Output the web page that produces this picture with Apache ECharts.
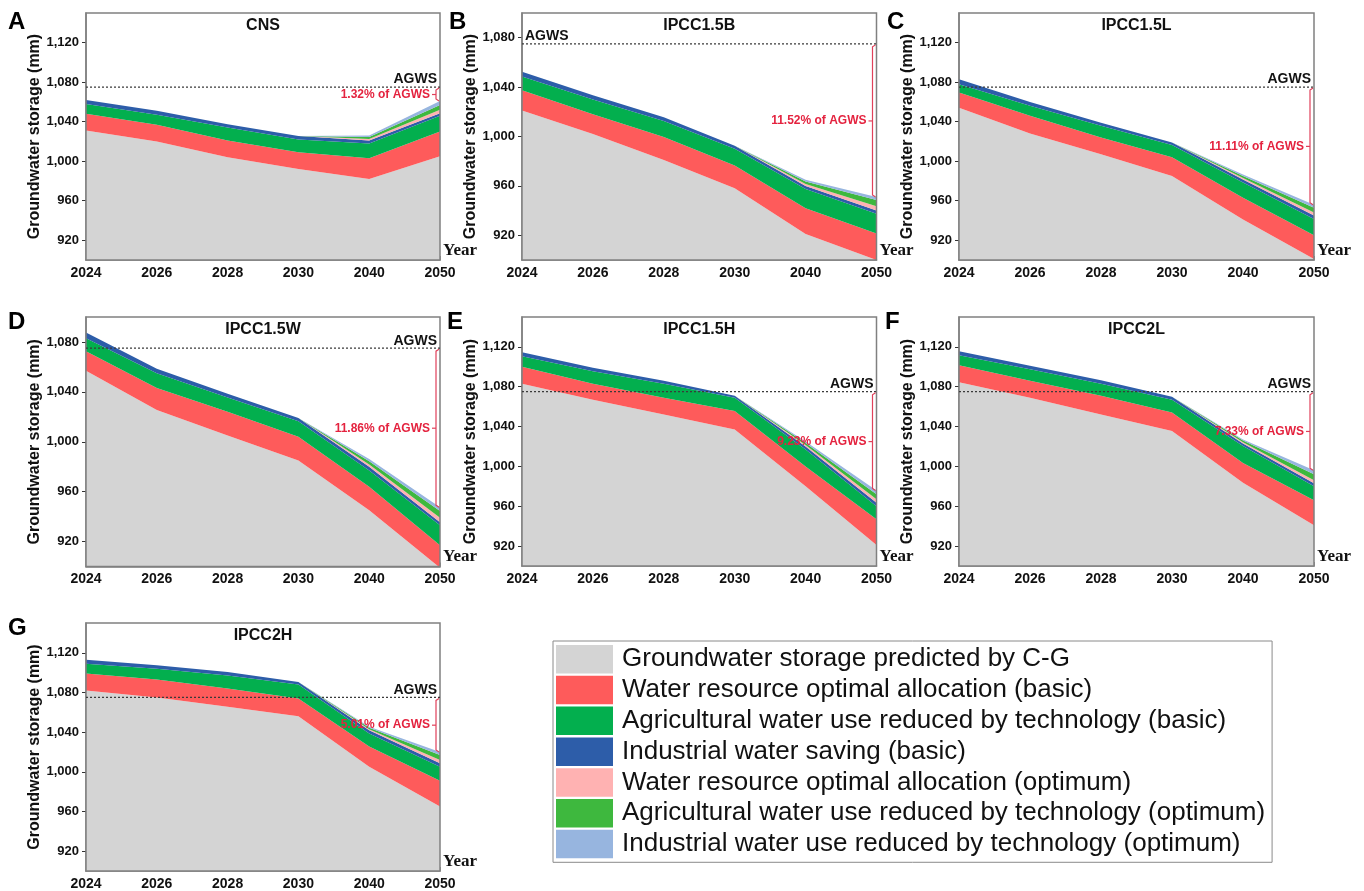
<!DOCTYPE html>
<html>
<head>
<meta charset="utf-8">
<script src="https://cdn.jsdelivr.net/npm/echarts@6/dist/echarts.min.js"></script>
<style>
  html, body { margin: 0; padding: 0; background: #ffffff; }
  #chart { width: 1364px; height: 891px; }
</style>
</head>
<body>
<div id="chart"></div>
<script>
// ---------------- DATA ----------------
const years = ['2024', '2026', '2028', '2030', '2040', '2050'];
const panelTitles = ['CNS', 'IPCC1.5B', 'IPCC1.5L', 'IPCC1.5W', 'IPCC1.5H', 'IPCC2L', 'IPCC2H'];
const panelLetters = ['A', 'B', 'C', 'D', 'E', 'F', 'G'];
const layerNames = [
  'Groundwater storage predicted by C-G',
  'Water resource optimal allocation (basic)',
  'Agricultural water use reduced by technology (basic)',
  'Industrial water saving (basic)',
  'Water resource optimal allocation (optimum)',
  'Agricultural water use reduced by technology (optimum)',
  'Industrial water use reduced by technology (optimum)'
];
const AGWS = 1075;
const pctLabels = ['1.32% of AGWS', '11.52% of AGWS', '11.11% of AGWS', '11.86% of AGWS', '9.23% of AGWS', '7.33% of AGWS', '5.01% of AGWS'];
const ticksTall = [920, 960, 1000, 1040, 1080, 1120];
const ticksShort = [920, 960, 1000, 1040, 1080];
const yMaxes = [1150, 1100, 1150, 1100, 1150, 1150, 1150];

// CNS
const cnsBase       = [1031, 1020, 1004, 992, 982, 1005];
const cnsAllocBasic = [17, 17, 17, 17, 21, 25];
const cnsAgriBasic  = [10, 10, 13, 13, 15, 16];
const cnsIndBasic   = [4, 4, 3.5, 3.5, 3, 2.5];
const cnsAllocOpt   = [0, 0, 0, 0, 1.5, 3.5];
const cnsAgriOpt    = [0, 0, 0, 0, 2, 5];
const cnsIndOpt     = [0, 0, 0, 0, 1.5, 4];
// IPCC1.5B
const b15Base       = [1021, 1002, 981, 958, 921, 900];
const b15AllocBasic = [16.5, 16, 18.5, 18.5, 21, 21.5];
const b15AgriBasic  = [11, 12, 13, 13.5, 15.5, 16];
const b15IndBasic   = [4, 3.5, 3, 2.5, 2.5, 2.5];
const b15AllocOpt   = [0, 0, 0, 0, 1.5, 3.5];
const b15AgriOpt    = [0, 0, 0, 0, 2, 5];
const b15IndOpt     = [0, 0, 0, 0, 1.5, 2.5];
// IPCC1.5L
const l15Base       = [1054, 1028, 1007, 985, 941, 901];
const l15AllocBasic = [15.5, 18, 17, 19, 22, 24];
const l15AgriBasic  = [8.5, 10, 12, 12.5, 15.5, 16.5];
const l15IndBasic   = [5, 4, 3, 2.5, 3, 3.5];
const l15AllocOpt   = [0, 0, 0, 0, 1.5, 3];
const l15AgriOpt    = [0, 0, 0, 0, 2, 5];
const l15IndOpt     = [0, 0, 0, 0, 1.5, 3];
// IPCC1.5W
const w15Base       = [1057, 1025.5, 1005, 985, 945, 899];
const w15AllocBasic = [15.5, 17.5, 19, 19, 19, 18];
const w15AgriBasic  = [10.5, 12, 11.5, 12.5, 13, 16];
const w15IndBasic   = [4.5, 3.5, 3, 2.5, 3, 2.5];
const w15AllocOpt   = [0, 0, 0, 0, 1.8, 3.5];
const w15AgriOpt    = [0, 0, 0, 0, 2.5, 5.5];
const w15IndOpt     = [0, 0, 0, 0, 1.8, 3];
// IPCC1.5H
const h15Base       = [1083, 1067, 1052, 1037, 980, 921];
const h15AllocBasic = [17, 16, 17, 18.5, 20, 26];
const h15AgriBasic  = [10.5, 12.5, 14, 13.5, 17, 13];
const h15IndBasic   = [4, 3.5, 3, 2, 3, 3.5];
const h15AllocOpt   = [0, 0, 0, 0, 1.5, 3.5];
const h15AgriOpt    = [0, 0, 0, 0, 2, 5];
const h15IndOpt     = [0, 0, 0, 0, 1.5, 3.8];
// IPCC2L
const l2Base        = [1084.5, 1069, 1052, 1035.5, 983.5, 941];
const l2AllocBasic  = [17, 17, 19, 18.5, 20, 25];
const l2AgriBasic   = [10, 11.5, 12, 13, 17, 14];
const l2IndBasic    = [4, 3.5, 3.5, 3, 2.5, 3];
const l2AllocOpt    = [0, 0, 0, 0, 1.2, 3.2];
const l2AgriOpt     = [0, 0, 0, 0, 1.8, 6];
const l2IndOpt      = [0, 0, 0, 0, 1, 4];
// IPCC2H
const h2Base        = [1082, 1075, 1065.5, 1056, 1005, 965];
const h2AllocBasic  = [17, 18, 18.5, 18, 20.5, 26];
const h2AgriBasic   = [10, 11, 13, 14, 13, 14];
const h2IndBasic    = [4, 3.5, 3.5, 2.5, 3.5, 3.5];
const h2AllocOpt    = [0, 0, 0, 0, 1, 3.5];
const h2AgriOpt     = [0, 0, 0, 0, 1.5, 5];
const h2IndOpt      = [0, 0, 0, 0, 1, 3];

const panelLayers = [
  [cnsBase, cnsAllocBasic, cnsAgriBasic, cnsIndBasic, cnsAllocOpt, cnsAgriOpt, cnsIndOpt],
  [b15Base, b15AllocBasic, b15AgriBasic, b15IndBasic, b15AllocOpt, b15AgriOpt, b15IndOpt],
  [l15Base, l15AllocBasic, l15AgriBasic, l15IndBasic, l15AllocOpt, l15AgriOpt, l15IndOpt],
  [w15Base, w15AllocBasic, w15AgriBasic, w15IndBasic, w15AllocOpt, w15AgriOpt, w15IndOpt],
  [h15Base, h15AllocBasic, h15AgriBasic, h15IndBasic, h15AllocOpt, h15AgriOpt, h15IndOpt],
  [l2Base, l2AllocBasic, l2AgriBasic, l2IndBasic, l2AllocOpt, l2AgriOpt, l2IndOpt],
  [h2Base, h2AllocBasic, h2AgriBasic, h2IndBasic, h2AllocOpt, h2AgriOpt, h2IndOpt]
];

// ---------------- STYLE / LAYOUT ----------------
const COLORS = ['#d4d4d4', '#fe5b5b', '#03af4e', '#2d5da9', '#ffb2b2', '#3eb83e', '#97b5df'];
const SANS = '"Liberation Sans", Arial, sans-serif';
const SERIF = '"Liberation Serif", "Times New Roman", serif';
const FRAME = '#808080';

const grids = [
  { left: 86,  top: 13,  width: 354, height: 247 },
  { left: 522, top: 13,  width: 354.5, height: 247 },
  { left: 959, top: 13,  width: 355, height: 247 },
  { left: 86,  top: 317, width: 354, height: 249.5 },
  { left: 522, top: 317, width: 354.5, height: 249 },
  { left: 959, top: 317, width: 355, height: 249 },
  { left: 86,  top: 623, width: 354, height: 249.5 }
];
const letterPos = [[8, 22.5], [449, 22.5], [887, 22.5], [8, 322.5], [447, 322.5], [885, 322.5], [8, 628.5]];
const agwsLeft = [false, true, false, false, false, false, false];

function fmtThousands(v) {
  return String(v).replace(/\B(?=(\d{3})+(?!\d))/g, ',');
}

const chart = echarts.init(document.getElementById('chart'), null, { renderer: 'canvas' });

const option = {
  animation: false,
  backgroundColor: '#ffffff',
  grid: grids.map(g => Object.assign({}, g, {
    show: true, borderColor: FRAME, borderWidth: 1.5, backgroundColor: 'transparent', z: 5
  })),
  xAxis: grids.map((g, i) => ({
    type: 'category', gridIndex: i, data: years, boundaryGap: false,
    axisLine: { lineStyle: { color: FRAME, width: 1.5 } },
    axisTick: { inside: true, length: 4, alignWithLabel: true, lineStyle: { color: '#9a9a9a' } },
    axisLabel: { interval: 0, color: '#111', fontSize: 14, fontWeight: 'bold', fontFamily: SANS, margin: 6 },
    splitLine: { show: false },
    name: 'Year', nameLocation: 'end', nameGap: 3,
    nameTextStyle: { fontFamily: SERIF, fontWeight: 'bold', fontSize: 17, color: '#111', verticalAlign: 'bottom', align: 'left', padding: [0, 0, 1, 0] }
  })),
  yAxis: grids.map((g, i) => {
    const ticks = yMaxes[i] > 1120 ? ticksTall : ticksShort;
    return {
      type: 'value', gridIndex: i, min: 900, max: yMaxes[i],
      axisLine: { show: true, lineStyle: { color: FRAME, width: 1.5 } },
      axisTick: { show: true, customValues: ticks, length: 4, lineStyle: { color: '#333' } },
      axisLabel: { customValues: ticks, formatter: fmtThousands, color: '#111', fontSize: 13, fontWeight: 'bold', fontFamily: SANS, margin: 7 },
      splitLine: { show: false },
      name: 'Groundwater storage (mm)', nameLocation: 'middle', nameGap: 43, nameRotate: 90,
      nameTextStyle: { fontFamily: SANS, fontWeight: 'bold', fontSize: 16, color: '#111' }
    };
  }),
  legend: {
    orient: 'vertical', left: 553, top: 641,
    itemWidth: 57, itemHeight: 28.5, itemGap: 2.3, icon: 'rect',
    padding: [4, 7, 4, 3],
    borderColor: '#8a8a8a', borderWidth: 1,
    selectedMode: false,
    textStyle: { fontFamily: SANS, fontSize: 26, color: '#111', padding: [0, 0, 0, 4] },
    data: layerNames
  },
  graphic: [],
  series: []
};

// panel letters and titles
grids.forEach((g, i) => {
  option.graphic.push({
    type: 'text', x: letterPos[i][0], y: letterPos[i][1],
    style: { text: panelLetters[i], font: 'bold 24px ' + SANS, fill: '#000', align: 'left', verticalAlign: 'middle' },
    z: 20
  });
  option.graphic.push({
    type: 'text', x: g.left + g.width / 2, y: g.top + 12.5,
    style: { text: panelTitles[i], font: 'bold 16px ' + SANS, fill: '#111', align: 'center', verticalAlign: 'middle' },
    z: 20
  });
});

// stacked areas
panelLayers.forEach((layers, i) => {
  layers.forEach((vals, k) => {
    option.series.push({
      type: 'line', name: layerNames[k], xAxisIndex: i, yAxisIndex: i,
      stack: 'panel' + i, data: vals,
      symbol: 'none', showSymbol: false,
      lineStyle: { width: 0 },
      itemStyle: { color: COLORS[k] },
      areaStyle: { color: COLORS[k], opacity: 1 },
      z: 2, silent: true
    });
  });
  // AGWS line + bracket annotation (positions via the axis scales)
  const last = years.length - 1;
  const top2050 = layers.reduce((s, arr) => s + arr[last], 0);
  option.series.push({
    type: 'custom', name: 'AGWS', xAxisIndex: i, yAxisIndex: i, silent: true, z: 10,
    data: [[last, AGWS, top2050]],
    renderItem: function (params, api) {
      const pStart = api.coord([0, api.value(1)]);
      const pEnd = api.coord([api.value(0), api.value(1)]);
      const pBot = api.coord([api.value(0), api.value(2)]);
      const x0 = pEnd[0] - 4;
      const yT = pEnd[1] + 1, yB = pBot[1];
      const yM = (yT + yB) / 2;
      const red = '#e0405a';
      const children = [
        { type: 'line', shape: { x1: pStart[0], y1: pStart[1], x2: pEnd[0], y2: pEnd[1] },
          style: { stroke: '#3a3a3a', lineWidth: 1.3, lineDash: [2, 2] } },
        { type: 'polyline', shape: { points: [[x0 + 3, yT], [x0, yT + 2], [x0, yB - 2], [x0 + 3, yB]] },
          style: { stroke: red, lineWidth: 1.2, fill: null } },
        { type: 'line', shape: { x1: x0, y1: yM, x2: x0 - 4, y2: yM },
          style: { stroke: red, lineWidth: 1.2 } },
        { type: 'text', style: { text: pctLabels[i], x: x0 - 6, y: yM, align: 'right', verticalAlign: 'middle',
          font: 'bold 12px ' + SANS, fill: '#e4233f' } }
      ];
      if (agwsLeft[i]) {
        children.push({ type: 'text', style: { text: 'AGWS', x: pStart[0] + 3, y: pStart[1] - 7.5, align: 'left', verticalAlign: 'middle',
          font: 'bold 14px ' + SANS, fill: '#111' } });
      } else {
        children.push({ type: 'text', style: { text: 'AGWS', x: pEnd[0] - 3, y: pEnd[1] - 7.5, align: 'right', verticalAlign: 'middle',
          font: 'bold 14px ' + SANS, fill: '#111' } });
      }
      return { type: 'group', children: children };
    }
  });
});

chart.setOption(option);
</script>
</body>
</html>
